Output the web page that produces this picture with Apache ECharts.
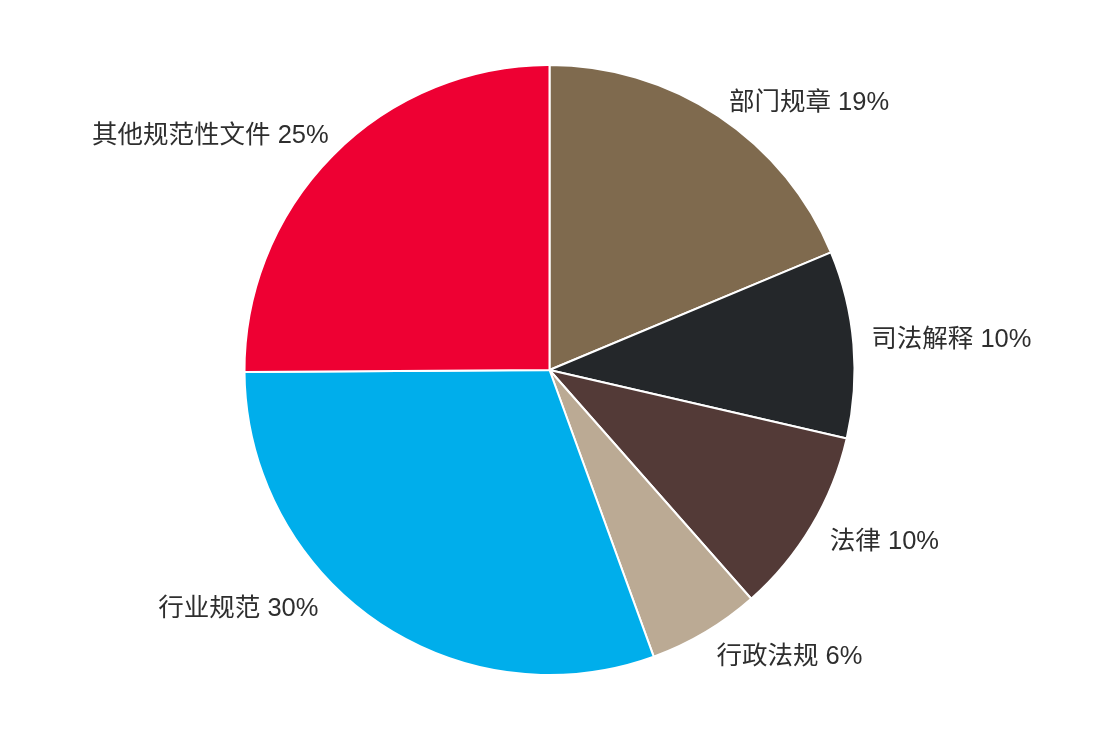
<!DOCTYPE html>
<html>
<head>
<meta charset="utf-8">
<script src="https://cdn.jsdelivr.net/npm/echarts@6/dist/echarts.min.js"></script>
<style>
html,body{margin:0;padding:0;background:#fff;}
#chart{width:1101px;height:743px;}
</style>
</head>
<body>
<div id="chart"></div>
<script>
const categories = ['部门规章', '司法解释', '法律', '行政法规', '行业规范', '其他规范性文件'];
const values = [18.7, 9.9, 9.9, 5.95, 30.45, 25.1];
const colors = ['#7F6A4E', '#24272A', '#533A37', '#BBAA94', '#00AEEB', '#EE0033'];

// small per-label nudges to match the reference label placement
const labelNudge = [[-4, 8], [-8, -2], [-4, 3], [-2, 2], [-42, -33], [14, -1]];

const chart = echarts.init(document.getElementById('chart'));
chart.setOption({
  animation: false,
  backgroundColor: '#ffffff',
  series: [{
    type: 'pie',
    center: [549.5, 370],
    radius: 305,
    startAngle: 90,
    clockwise: true,
    avoidLabelOverlap: false,
    data: categories.map((c, i) => ({ name: c, value: values[i], itemStyle: { color: colors[i] } })),
    itemStyle: { borderColor: '#ffffff', borderWidth: 2 },
    label: {
      show: true,
      position: 'outside',
      formatter: p => p.name + ' ' + Math.round(p.percent) + '%',
      fontSize: 25.5,
      color: '#2e2e2e',
      fontFamily: "'Liberation Sans', 'Noto Sans CJK SC', sans-serif",
      distanceToLabelLine: 0
    },
    labelLine: { show: false, length: 26, length2: 0 },
    labelLayout: p => ({ dx: labelNudge[p.dataIndex][0], dy: labelNudge[p.dataIndex][1] }),
    emphasis: { disabled: true }
  }]
});
</script>
</body>
</html>
